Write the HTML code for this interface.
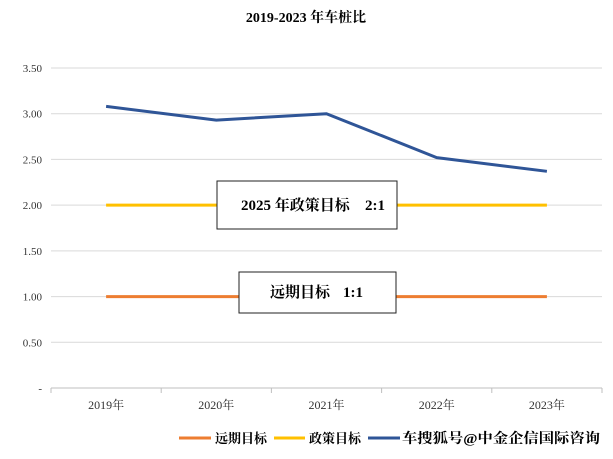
<!DOCTYPE html>
<html><head><meta charset="utf-8"><style>
body{margin:0;background:#fff;width:613px;height:454px;overflow:hidden;font-family:"Liberation Serif","Noto Serif CJK SC",serif}
svg text{font-family:"Liberation Serif","Noto Serif CJK SC",serif}
</style></head><body>
<svg width="613" height="454">
<text x="306" y="22" text-anchor="middle" font-size="14" font-weight="bold">2019-2023 年车桩比</text>
<g id="grid"></g><g id="series"></g>
<g>
<rect x="217" y="181" width="180" height="48" fill="#fff" stroke="#222" stroke-width="1"/>
<text x="241" y="210" font-size="15" font-weight="bold">2025 年政策目标</text>
<text x="385" y="210" text-anchor="end" font-size="15" font-weight="bold">2:1</text></g>
<g>
<rect x="239" y="272" width="157" height="41" fill="#fff" stroke="#222" stroke-width="1"/>
<text x="270" y="297" font-size="15" font-weight="bold">远期目标</text>
<text x="363" y="297" text-anchor="end" font-size="15" font-weight="bold">1:1</text></g>
<g font-size="13" font-weight="bold">
<g><line x1="179" y1="438" x2="211" y2="438" stroke="#ED7D31" stroke-width="3"/><text x="215" y="443">远期目标</text></g>
<g><line x1="274" y1="438" x2="305" y2="438" stroke="#FFC000" stroke-width="3"/><text x="309" y="443">政策目标</text></g>
<g><line x1="368" y1="438" x2="400" y2="438" stroke="#2F5597" stroke-width="3"/><text x="402" y="443" textLength="198" lengthAdjust="spacingAndGlyphs" font-size="14">车搜狐号@中金企信国际咨询</text></g>
</g>
</svg>
<script>
const categories=["2019年","2020年","2021年","2022年","2023年"];
const ratioValues=[3.08,2.93,3.00,2.52,2.37];
const policyValues=[2,2,2,2,2];
const longtermValues=[1,1,1,1,1];
const yTicks=[0,0.5,1,1.5,2,2.5,3,3.5];
const yTickLabels=["-","0.50","1.00","1.50","2.00","2.50","3.00","3.50"];
const NS="http://www.w3.org/2000/svg";
const L=51,R=602,T=68,B=388,ymax=3.5;
const y=v=>B-(v/ymax)*(B-T);
const bw=(R-L)/categories.length;
const x=i=>L+bw*(i+0.5);
function mk(tag,attrs,parent){const e=document.createElementNS(NS,tag);for(const k in attrs)e.setAttribute(k,attrs[k]);parent.appendChild(e);return e;}
const g=document.getElementById('grid');
yTicks.forEach((t,i)=>{
 if(t>0){const ln=mk('line',{x1:L,x2:R,y1:y(t),y2:y(t),stroke:'#d9d9d9','stroke-width':1},g);
 
 }
 const tx=mk('text',{x:42,y:y(t)+4,'text-anchor':'end','font-size':11,fill:'#333'},g);
 tx.textContent=yTickLabels[i];
 
 
});
const ax=mk('line',{x1:L,x2:R,y1:B,y2:B,stroke:'#bfbfbf'},g);


for(let i=0;i<=categories.length;i++){mk('line',{x1:L+bw*i,x2:L+bw*i,y1:B,y2:B+5,stroke:'#bfbfbf'},g);}
categories.forEach((c,i)=>{const tx=mk('text',{x:x(i),y:B+21,'text-anchor':'middle','font-size':12,fill:'#333'},g);tx.textContent=c;
 
 });
const s=document.getElementById('series');
function line(vals,color,name){const p=mk('polyline',{points:vals.map((v,i)=>x(i)+','+y(v)).join(' '),fill:'none',stroke:color,'stroke-width':3,'stroke-linejoin':'round'},s);
 
 }
line(longtermValues,'#ED7D31','longterm-line');
line(policyValues,'#FFC000','policy-line');
line(ratioValues,'#2F5597','ratio-line');
</script>
</body></html>
